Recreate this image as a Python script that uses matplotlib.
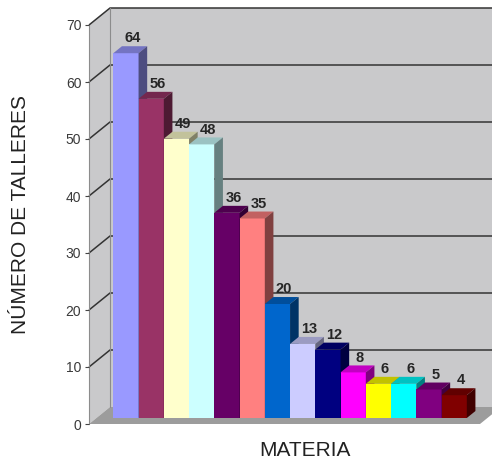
import matplotlib
matplotlib.use('Agg')
import matplotlib.pyplot as plt
from matplotlib.patches import Polygon
from matplotlib.colors import to_rgb

plt.rcParams['font.family'] = ['Liberation Sans', 'DejaVu Sans']

# ---- data ----
values = [64, 56, 49, 48, 36, 35, 20, 13, 12, 8, 6, 6, 5, 4]
colors = ['#9999FF', '#993366', '#FFFFCC', '#CCFFFF', '#660066', '#FF8080',
          '#0066CC', '#CCCCFF', '#000080', '#FF00FF', '#FFFF00', '#00FFFF',
          '#800080', '#800000']
y_ticks = [0, 10, 20, 30, 40, 50, 60, 70]
y_label = 'NÚMERO DE TALLERES'
x_label = 'MATERIA'


def shade(c, f):
    return tuple(v * f for v in to_rgb(c))


fig = plt.figure(figsize=(4.92, 4.62), dpi=100)
ax = fig.add_axes([89 / 492, 38 / 462, 391 / 492, 399 / 462])
XL = -0.669
XR = XL + 391 / 25.25
YMAX = y_ticks[-1]
ax.set_xlim(XL, XR)
ax.set_ylim(0, YMAX)
ax.patch.set_visible(False)

# oblique depth in data units
DX, DY = 0.832, 2.982
wall = '#c9c9cb'

# back wall
ax.add_patch(Polygon([(XL + DX, DY), (XR + DX, DY), (XR + DX, YMAX + DY), (XL + DX, YMAX + DY)],
                     closed=True, fc=wall, ec='none', clip_on=False, zorder=0))
# left wall
ax.add_patch(Polygon([(XL, 0), (XL, YMAX), (XL + DX, YMAX + DY), (XL + DX, DY)],
                     closed=True, fc=wall, ec='none', clip_on=False, zorder=0))
# floor
ax.add_patch(Polygon([(XL, 0), (XR, 0), (XR + DX, DY), (XL + DX, DY)],
                     closed=True, fc='#9c9c9c', ec='none', clip_on=False, zorder=0.5))

# gridlines on walls
for v in y_ticks[1:]:
    ax.plot([XL, XL + DX, XR + DX], [v, v + DY, v + DY], color='#333333',
            lw=1.1, clip_on=False, zorder=0.8, solid_capstyle='butt')
# back edge of left wall
ax.plot([XL + DX, XL + DX], [DY, YMAX + DY], color='#8c8c8c', lw=0.8,
        clip_on=False, zorder=0.9)

# bars
fd, bd = 0.353, 0.41
ox, oy = fd * DX, fd * DY
bdx, bdy = bd * DX, bd * DY
xs = [i + ox for i in range(len(values))]
bars = ax.bar(xs, values, width=1, bottom=oy, align='edge', color=colors,
              linewidth=0, clip_on=False)
for i, (rect, v, c) in enumerate(zip(bars, values, colors)):
    z = 2 + i
    rect.set_zorder(z)
    x0, x1, top = xs[i], xs[i] + 1, v + oy
    ax.add_patch(Polygon([(x0, top), (x1, top), (x1 + bdx, top + bdy), (x0 + bdx, top + bdy)],
                         closed=True, fc=shade(c, 0.76), ec='none', clip_on=False, zorder=z))
    ax.add_patch(Polygon([(x1, oy), (x1, top), (x1 + bdx, top + bdy), (x1 + bdx, oy + bdy)],
                         closed=True, fc=shade(c, 0.5), ec='none', clip_on=False, zorder=z))
    ax.text(x0 + 0.5 + bdx * 0.75, top + bdy + 0.15, str(v), ha='center', va='bottom',
            fontsize=10.5, fontweight='bold', color='#262626', zorder=40)

# axes styling
for s in ['top', 'right', 'bottom']:
    ax.spines[s].set_visible(False)
ax.spines['left'].set_color('#8c8c8c')
ax.spines['left'].set_linewidth(0.8)
ax.spines['left'].set_zorder(1)
ax.set_xticks([])
ax.set_yticks(y_ticks)
ax.tick_params(axis='y', length=3, width=0.8, color='#444444', labelsize=10,
               labelcolor='#3a3a3a', pad=2.5)

ax.text((21 - 89) / 391, (424 - 215) / 399, y_label, rotation=90, ha='center',
        va='center', fontsize=15, color='#222222', transform=ax.transAxes)
ax.text((305 - 89) / 391, -(26 / 399), x_label, ha='center', va='center',
        fontsize=15, color='#222222', transform=ax.transAxes)

fig.savefig('out.png', dpi=100, facecolor='white')
